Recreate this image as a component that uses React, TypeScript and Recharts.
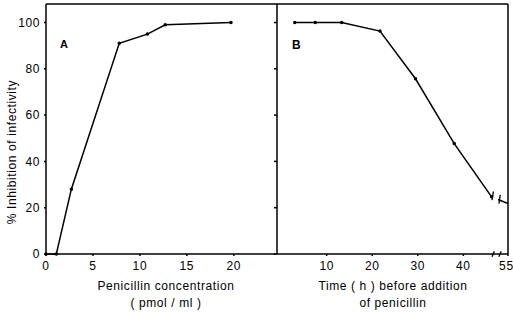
import React from "react";
import { LineChart, Line, XAxis, YAxis, ReferenceLine } from "recharts";

// Panel A: inhibition vs penicillin concentration
const concA = [0, 1.1, 2.7, 7.8, 10.8, 12.7, 19.7];
const inhibA = [0, 0, 28, 91, 95, 99, 100];
const ticksA = [0, 5, 10, 15, 20];

// Panel B: inhibition vs time before addition of penicillin (axis broken after 47 h)
const hoursB = [3, 7.5, 13.3, 21.7, 29.5, 38, 46.2, 55];
const inhibB = [100, 100, 100, 96.3, 75.7, 47.7, 24.7, 21.8];
const ticksB = [10, 20, 30, 40, 55];

const yTicks = [0, 20, 40, 60, 80, 100];
const Y_MAX = 108;

// broken axis: values past the break sit at the right frame
const BREAK_AT = 47;
const END_POS = 49.8;
const posB = (h: number) => (h > BREAK_AT ? END_POS : h);

const dataA = concA.map((c, i) => ({ x: c, y: inhibA[i] }));
const dataB = hoursB.slice(0, 7).map((h, i) => ({ x: posB(h), y: inhibB[i] }));
const tailB = hoursB.slice(6).map((h, i) => ({ x: posB(h), y: inhibB[i + 6] }));

const font = { fontSize: 12, fill: "#000", letterSpacing: 0.6 };
const ink = "#000";

export default function App() {
  return (
    <div
      style={{
        position: "absolute",
        left: 0,
        top: 0,
        width: 513,
        height: 314,
        background: "#fff",
        fontFamily: "'Liberation Sans', Arial, sans-serif",
        color: "#000",
        overflow: "hidden",
      }}
    >
      <div style={{ position: "absolute", left: 0, top: 0 }}>
        <LineChart width={277} height={314} data={dataA} margin={{ top: 4, right: 0, bottom: 40, left: 0 }}>
          <XAxis
            dataKey="x"
            type="number"
            domain={[0, 24.6]}
            ticks={ticksA}
            tick={font}
            tickSize={2}
            tickMargin={5}
            height={20}
            stroke={ink}
            strokeWidth={1.5}
          />
          <YAxis
            type="number"
            domain={[0, Y_MAX]}
            ticks={yTicks}
            tick={font}
            tickSize={2}
            tickMargin={4}
            width={46}
            stroke={ink}
            strokeWidth={1.5}
          />
          <ReferenceLine y={Y_MAX} stroke={ink} strokeWidth={1.5} ifOverflow="visible" />
          <Line
            dataKey="y"
            stroke={ink}
            strokeWidth={1.5}
            dot={{ r: 1, fill: ink, stroke: ink }}
            isAnimationActive={false}
          />
        </LineChart>
      </div>

      <div style={{ position: "absolute", left: 267, top: 0 }}>
        <LineChart width={246} height={314} margin={{ top: 4, right: 5, bottom: 40, left: 0 }}>
          <XAxis
            dataKey="x"
            type="number"
            domain={[-0.9, END_POS]}
            ticks={ticksB.map(posB)}
            tickFormatter={(v: number) => String(ticksB[ticksB.map(posB).indexOf(v)])}
            tick={font}
            tickSize={2}
            tickMargin={5}
            height={20}
            stroke={ink}
            strokeWidth={1.5}
            allowDataOverflow
          />
          <YAxis
            type="number"
            domain={[0, Y_MAX]}
            ticks={yTicks}
            tickFormatter={() => ""}
            tickSize={3}
            width={10}
            stroke={ink}
            strokeWidth={1.5}
          />
          {/* frame */}
          <ReferenceLine y={Y_MAX} stroke={ink} strokeWidth={1.5} ifOverflow="visible" />
          <ReferenceLine x={END_POS} stroke={ink} strokeWidth={1.5} ifOverflow="visible" />
          {/* gap and break marks on the x axis */}
          <ReferenceLine segment={[{ x: 46.6, y: 0 }, { x: 48, y: 0 }]} stroke="#fff" strokeWidth={3} ifOverflow="visible" />
          <ReferenceLine segment={[{ x: 46.3, y: -1.2 }, { x: 46.8, y: 1.2 }]} stroke={ink} strokeWidth={1.3} ifOverflow="visible" />
          <ReferenceLine segment={[{ x: 47.8, y: -1.2 }, { x: 48.3, y: 1.2 }]} stroke={ink} strokeWidth={1.3} ifOverflow="visible" />
          {/* break marks on the curve */}
          <ReferenceLine segment={[{ x: 46.3, y: 23.3 }, { x: 46.6, y: 27 }]} stroke={ink} strokeWidth={1.3} ifOverflow="visible" />
          <ReferenceLine segment={[{ x: 47.8, y: 21.8 }, { x: 48.1, y: 25.5 }]} stroke={ink} strokeWidth={1.3} ifOverflow="visible" />
          <Line
            data={dataB}
            dataKey="y"
            stroke={ink}
            strokeWidth={1.5}
            dot={{ r: 1, fill: ink, stroke: ink }}
            isAnimationActive={false}
          />
          <Line
            data={tailB}
            dataKey="y"
            stroke={ink}
            strokeWidth={1.5}
            strokeDasharray="0 7 30"
            dot={false}
            isAnimationActive={false}
          />
        </LineChart>
      </div>

      <div style={{ position: "absolute", left: 60, top: 38, fontWeight: "bold", fontSize: 11 }}>A</div>
      <div style={{ position: "absolute", left: 292, top: 38, fontWeight: "bold", fontSize: 12 }}>B</div>

      <div
        style={{
          position: "absolute",
          left: 12,
          top: 152,
          transform: "translate(-50%, -50%) rotate(-90deg)",
          whiteSpace: "nowrap",
          fontSize: 12,
          letterSpacing: 0.6,
        }}
      >
        % Inhibition of infectivity
      </div>

      <div style={{ position: "absolute", left: 66, width: 200, top: 278, textAlign: "center", fontSize: 12, letterSpacing: 0.6, lineHeight: "17px" }}>
        Penicillin concentration
        <br />( pmol / ml )
      </div>
      <div style={{ position: "absolute", left: 293, width: 200, top: 278, textAlign: "center", fontSize: 12, letterSpacing: 0.6, lineHeight: "17px" }}>
        Time ( h ) before addition
        <br />
        of penicillin
      </div>
    </div>
  );
}
